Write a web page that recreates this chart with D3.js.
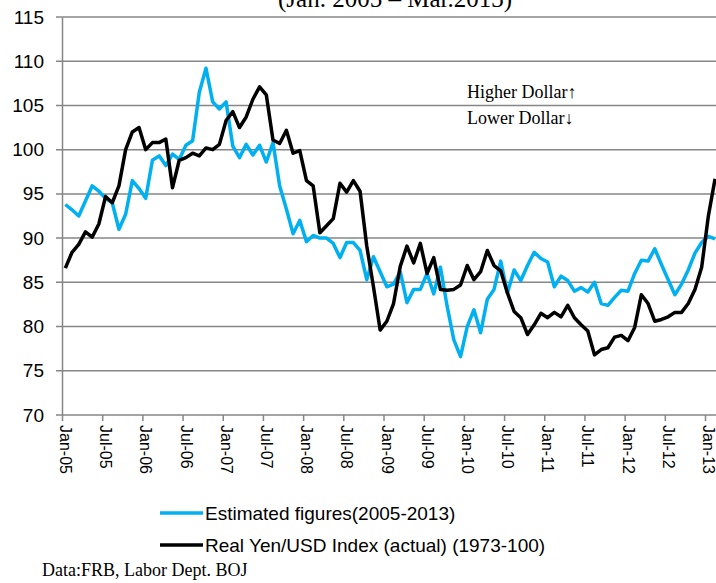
<!DOCTYPE html>
<html>
<head>
<meta charset="utf-8">
<script src="https://cdn.jsdelivr.net/npm/d3@7"></script>
<style>
  body { margin: 0; background: #fff; }
  svg { display: block; }
</style>
</head>
<body>
<script>
var width = 716, height = 583;

// months Jan-05 .. Mar-13
var monthNames = ["Jan","Feb","Mar","Apr","May","Jun","Jul","Aug","Sep","Oct","Nov","Dec"];
var months = [];
for (var yy = 5; yy <= 13; yy++) {
    monthNames.forEach(function (m, k) {
        if (yy == 13 && k > 2) return;
        months.push(m + "-" + (yy < 10 ? "0" + yy : yy));
    });
}

var tickLabels = ["Jan-05","Jul-05","Jan-06","Jul-06","Jan-07","Jul-07","Jan-08","Jul-08",
                  "Jan-09","Jul-09","Jan-10","Jul-10","Jan-11","Jul-11","Jan-12","Jul-12","Jan-13"];
var yTicks = [70, 75, 80, 85, 90, 95, 100, 105, 110, 115];

// Estimated figures(2005-2013)
var estimated = [93.8,93.2,92.5,94.2,95.9,95.3,94.5,94.0,91.0,92.7,96.5,95.6,
                 94.5,98.8,99.3,98.2,99.5,98.9,100.5,101.0,106.5,109.2,105.4,104.6,
                 105.4,100.4,99.1,100.6,99.4,100.5,98.6,100.8,95.9,93.3,90.5,92.0,
                 89.6,90.3,90.0,90.0,89.4,87.8,89.5,89.5,88.6,85.3,87.9,86.2,
                 84.5,84.8,86.2,82.7,84.2,84.2,86.0,83.7,86.7,82.3,78.5,76.6,
                 80.0,81.9,79.3,83.1,84.2,87.4,83.8,86.4,85.2,86.9,88.4,87.7,
                 87.3,84.5,85.7,85.2,84.0,84.4,83.9,85.0,82.6,82.4,83.3,84.1,
                 84.0,86.0,87.5,87.4,88.8,87.0,85.3,83.6,84.8,86.4,88.3,89.5,
                 90.2,89.9];

// Real Yen/USD Index (actual) (1973-100)
var actual = [86.6,88.4,89.3,90.7,90.1,91.6,94.7,94.0,95.9,100.0,102.0,102.5,
              100.0,100.8,100.8,101.2,95.7,98.8,99.1,99.6,99.3,100.2,100.0,100.6,
              103.3,104.3,102.5,103.7,105.7,107.1,106.2,101.1,100.7,102.2,99.6,99.9,
              96.5,95.9,90.6,91.4,92.2,96.2,95.2,96.5,95.3,89.1,84.5,79.6,
              80.6,82.6,86.8,89.1,87.2,89.4,86.0,87.8,84.2,84.1,84.2,84.7,
              86.9,85.3,86.2,88.6,86.9,86.3,83.8,81.7,81.0,79.1,80.2,81.5,
              81.0,81.6,81.1,82.4,81.0,80.2,79.5,76.8,77.4,77.6,78.8,79.0,
              78.4,79.9,83.6,82.6,80.6,80.8,81.1,81.6,81.6,82.6,84.2,86.7,
              92.5,96.7];

var svg = d3.select("body").append("svg")
    .attr("width", width)
    .attr("height", height);

var plotLeft = 62, plotTop = 17, plotBottom = 415;
var step = 6.698;

var x = d3.scaleLinear().domain([0, months.length]).range([plotLeft, plotLeft + months.length * step]);
var y = d3.scaleLinear().domain([70, 115]).range([plotBottom, plotTop]);

// title (cut at top edge)
svg.append("text")
    .attr("x", 395).attr("y", 7)
    .attr("text-anchor", "middle")
    .style("font-family", "'Liberation Serif', 'Times New Roman', serif")
    .style("font-size", "25px")
    .text("(Jan. 2005 \u2013 Mar.2013)");

// grid
svg.append("g").selectAll("line")
    .data(yTicks)
    .enter().append("line")
    .attr("x1", plotLeft - 6).attr("x2", width)
    .attr("y1", function (d) { return y(d); })
    .attr("y2", function (d) { return y(d); })
    .style("stroke", "#868686")
    .style("stroke-width", 1.5);

// y axis
var yAxis = svg.append("g")
    .attr("transform", "translate(" + plotLeft + ",0)")
    .call(d3.axisLeft(y).tickValues(yTicks).tickSize(0).tickPadding(18));
yAxis.select(".domain").attr("stroke", "#868686").attr("stroke-width", 1.5);
yAxis.selectAll("text")
    .style("font-family", "'Liberation Sans', Arial, sans-serif")
    .style("font-size", "19px")
    .attr("fill", "#000");

// x axis
var xAxis = svg.append("g")
    .attr("transform", "translate(0," + plotBottom + ")")
    .call(d3.axisBottom(x)
        .tickValues(d3.range(0, 97, 6))
        .tickSize(6)
        .tickFormat(function (d, i) { return tickLabels[i]; }));
xAxis.select(".domain").remove();
xAxis.selectAll(".tick line").attr("stroke", "#868686").attr("stroke-width", 1.5);
xAxis.selectAll("text")
    .attr("transform", "translate(-2.5,10) rotate(90)")
    .attr("x", 0).attr("y", 0).attr("dy", 0)
    .attr("text-anchor", "start")
    .attr("fill", "#000")
    .style("font-family", "'Liberation Sans', Arial, sans-serif")
    .style("font-size", "16px");

// lines
var line = d3.line()
    .x(function (d, i) { return x(i + 0.5); })
    .y(function (d) { return y(d); });

svg.append("path")
    .datum(estimated)
    .attr("d", line)
    .attr("fill", "none")
    .attr("stroke", "#00b0f0")
    .attr("stroke-width", 3.5)
    .attr("stroke-linejoin", "round");

svg.append("path")
    .datum(actual)
    .attr("d", line)
    .attr("fill", "none")
    .attr("stroke", "#000")
    .attr("stroke-width", 3.5)
    .attr("stroke-linejoin", "round");

// annotation
var serif = "'Liberation Serif', 'Times New Roman', serif";
svg.append("text").attr("x", 467).attr("y", 98)
    .style("font-family", serif).style("font-size", "18px")
    .text("Higher Dollar\u2191");
svg.append("text").attr("x", 467).attr("y", 124)
    .style("font-family", serif).style("font-size", "18px")
    .text("Lower Dollar\u2193");

// legend
var legend = [
    { name: "Estimated figures(2005-2013)", color: "#00b0f0", y: 513 },
    { name: "Real Yen/USD Index (actual) (1973-100)", color: "#000", y: 545 }
];
var lg = svg.append("g").selectAll("g").data(legend).enter().append("g");
lg.append("line")
    .attr("x1", 160).attr("x2", 203)
    .attr("y1", function (d) { return d.y; })
    .attr("y2", function (d) { return d.y; })
    .attr("stroke", function (d) { return d.color; })
    .attr("stroke-width", 3.5);
lg.append("text")
    .attr("x", 205)
    .attr("y", function (d) { return d.y + 7; })
    .style("font-family", "'Liberation Sans', Arial, sans-serif")
    .style("font-size", "19px")
    .text(function (d) { return d.name; });

svg.append("text").attr("x", 42).attr("y", 576)
    .style("font-family", serif).style("font-size", "18px")
    .text("Data:FRB, Labor Dept. BOJ");
</script>
</body>
</html>
